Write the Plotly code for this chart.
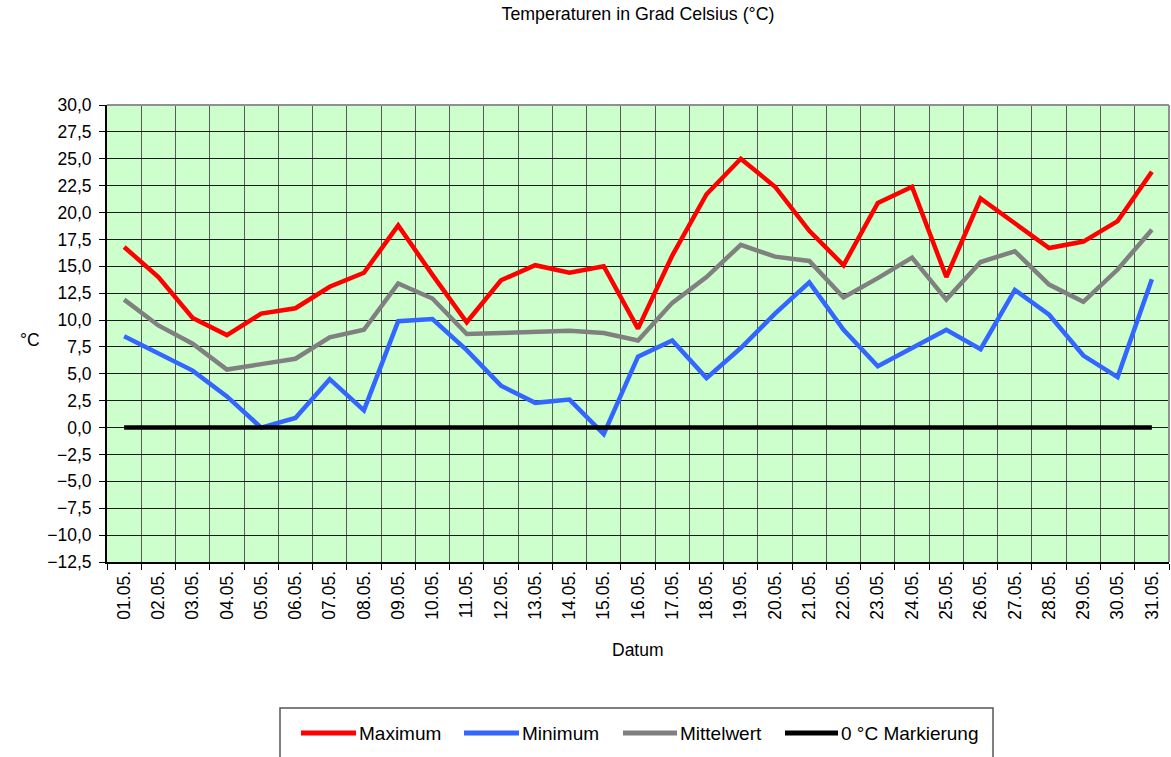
import plotly.graph_objects as go

dates = [f"{d:02d}.05." for d in range(1, 32)]
maximum = [16.8, 14.0, 10.2, 8.6, 10.6, 11.1, 13.1, 14.4, 18.8, 14.2, 9.8,
           13.7, 15.1, 14.4, 15.0, 9.2, 16.0, 21.7, 25.0, 22.4, 18.3,
           15.1, 20.9, 22.4, 14.0, 21.3, 19.0, 16.7, 17.3, 19.2, 23.8]
minimum = [8.5, 6.9, 5.3, 2.9, 0.0, 0.9, 4.5, 1.6, 9.9, 10.1, 7.2,
           3.9, 2.3, 2.6, -0.6, 6.6, 8.1, 4.6, 7.4, 10.6, 13.5,
           9.1, 5.7, 7.4, 9.1, 7.3, 12.8, 10.5, 6.7, 4.7, 13.8]
mittel = [11.9, 9.5, 7.8, 5.4, 5.9, 6.4, 8.4, 9.1, 13.4, 12.0, 8.7,
          8.8, 8.8, 9.0, 8.8, 8.1, 11.6, 14.0, 17.0, 15.9, 15.5,
          12.1, 13.9, 15.8, 11.9, 15.4, 16.4, 13.3, 11.7, 14.7, 18.4]
null_mark = [0.0] * 31

series_names = ["Maximum", "Minimum", "Mittelwert", "0 °C Markierung"]
series_data = [maximum, minimum, mittel, null_mark]
series_colors = ["#FF0000", "#3366FF", "#808080", "#000000"]

FONT = "Liberation Sans, Arial, sans-serif"
FS = 17.5
LFS = 19

PL, PR, PT, PB = 107, 1169, 105, 562
PW, PH = PR - PL, PB - PT


def px(x):
    return (x - PL) / PW


def py(y):
    return (PB - y) / PH


fig = go.Figure()
for name, vals, col in zip(series_names, series_data, series_colors):
    fig.add_trace(go.Scatter(x=dates, y=vals, name=name, mode="lines",
                             line=dict(color=col, width=4.5), showlegend=False))

# custom legend (line sample directly followed by text, as in the reference)
legend_line_x = [(301, 356), (464, 519), (623, 677), (785, 838)]
legend_y = 733
shapes = [
    dict(type="line", xref="paper", yref="paper", x0=0, x1=1, y0=1, y1=1,
         line=dict(color="#909090", width=2)),
    dict(type="line", xref="paper", yref="paper", x0=1, x1=1, y0=0, y1=1,
         line=dict(color="#909090", width=2)),
    dict(type="rect", xref="paper", yref="paper",
         x0=px(280), x1=px(993), y0=py(708), y1=py(800),
         line=dict(color="#555555", width=1.5)),
]
annotations = [
    dict(text="°C", x=px(30), xref="paper", xanchor="center",
         y=py(340), yref="paper", yanchor="middle",
         showarrow=False, font=dict(size=FS, family=FONT)),
    dict(text="Datum", x=0.5, xref="paper", y=py(650), yref="paper",
         yanchor="middle", showarrow=False, font=dict(size=FS, family=FONT)),
]
for name, col, (x0, x1) in zip(series_names, series_colors, legend_line_x):
    shapes.append(dict(type="line", xref="paper", yref="paper",
                       x0=px(x0), x1=px(x1), y0=py(legend_y), y1=py(legend_y),
                       line=dict(color=col, width=5)))
    annotations.append(dict(text=name, x=px(x1 + 1), xref="paper", xanchor="left",
                            y=py(legend_y), yref="paper", yanchor="middle",
                            showarrow=False, font=dict(size=LFS, family=FONT)))

fig.update_layout(
    width=1171, height=757,
    margin=dict(l=PL, r=1171 - PR, t=PT, b=757 - PB),
    paper_bgcolor="white",
    plot_bgcolor="#CCFFCC",
    separators=",.",
    font=dict(family=FONT, size=FS, color="black"),
    title=dict(text="Temperaturen in Grad Celsius (°C)", x=0.5, xref="paper",
               y=1 - 8 / 757, yanchor="top", font=dict(size=FS + 0.3, family=FONT)),
    showlegend=False,
    annotations=annotations,
    shapes=shapes,
)

fig.update_xaxes(type="category", range=[-0.5, 30.5], tickson="boundaries",
                 showgrid=True, gridcolor="#5a5a5a", gridwidth=1, ticks="outside",
                 ticklen=6, tickcolor="black", tickangle=-90, showline=True,
                 linecolor="black", linewidth=2, zeroline=False,
                 tickfont=dict(size=FS, family=FONT))
fig.update_yaxes(range=[-12.5, 30], dtick=2.5, tick0=0, tickformat=".1f",
                 showgrid=True, gridcolor="#1a1a1a", gridwidth=1, ticks="outside",
                 ticklen=6, tickcolor="black", showline=True, linecolor="black",
                 linewidth=2, zeroline=False, ticklabelstandoff=4,
                 tickfont=dict(size=FS, family=FONT))

fig.write_html("out.html", config={"displayModeBar": False},
               post_script="document.body.style.margin='0';document.body.style.overflow='hidden';")
